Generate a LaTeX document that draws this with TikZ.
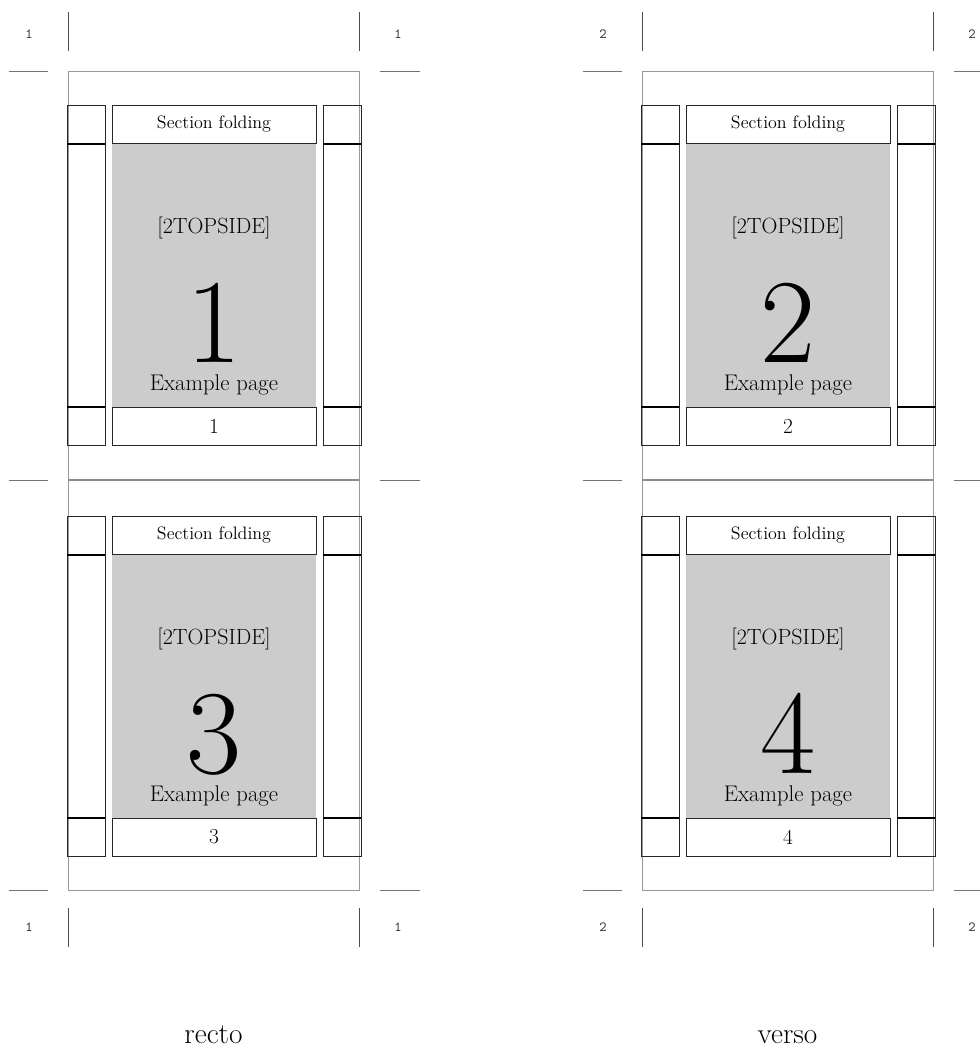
\documentclass[tikz,border=0pt]{standalone}
\usepackage{fontspec}
\usepackage{tikz}
\usetikzlibrary{positioning}

\tikzset{
  sheet/.style={draw=black!40, line width=0.6pt},
  fold/.style={draw=black!45, line width=1pt},
  crop/.style={draw=black!55, line width=0.7pt},
  cutmark/.style={draw=black!70, line width=0.6pt},
  pagebox/.style={draw=black!85, line width=0.6pt},
  rulebar/.style={draw=black, line width=1.3pt},
  textarea/.style={fill=black!20},
  hfbox/.style={pagebox, minimum width=153pt, minimum height=28.5pt, inner sep=0pt},
  corner/.style={font=\ttfamily\fontsize{10.5}{12}\selectfont, text=black!80},
  bodytext/.style={font=\fontsize{16.5}{20}\selectfont},
  bignum/.style={font=\fontsize{90}{90}\selectfont, inner sep=0pt},
  sidelabel/.style={font=\fontsize{22}{26}\selectfont, inner sep=0pt}
}

\begin{document}
\begin{tikzpicture}[x=0.75pt, y=-0.75pt]
    \useasboundingbox (0,0) rectangle (980,1061);

    % Sheets
    \foreach \dx/\n/\side in {0/1/recto, 574/2/verso} {
        \draw[sheet] (68+\dx,71) rectangle (359+\dx,890);
        \draw[fold] (68+\dx,480) -- (359+\dx,480);
        % crop marks
        \foreach \y in {71,480,890} {
            \draw[crop] (9+\dx,\y) -- (48+\dx,\y);
            \draw[crop] (380+\dx,\y) -- (420+\dx,\y);
        }
        \draw[cutmark] (68+\dx,12) -- (68+\dx,51);
        \draw[cutmark] (359+\dx,12) -- (359+\dx,51);
        \draw[cutmark] (68+\dx,908) -- (68+\dx,947);
        \draw[cutmark] (359+\dx,908) -- (359+\dx,947);
        \node[corner] (tl\n) at (29+\dx,34) {\n};
        \node[corner] (tr\n) at (398+\dx,34) {\n};
        \node[corner] (bl\n) at (29+\dx,927) {\n};
        \node[corner] (br\n) at (398+\dx,927) {\n};
        \node[sidelabel, anchor=base] (side\n) at (213.5+\dx,1043) {\side};
    }

    % Pages
    \foreach \dx/\dy/\p in {0/0/1, 0/411/3, 574/0/2, 574/411/4} {
        % margin columns
        \foreach \cx in {67,323} {
            \draw[pagebox] (\cx+\dx,105+\dy) rectangle (\cx+38+\dx,445+\dy);
            \draw[rulebar] (\cx+\dx,144+\dy) -- (\cx+38+\dx,144+\dy);
            \draw[rulebar] (\cx+\dx,407+\dy) -- (\cx+38+\dx,407+\dy);
        }
        % text block
        \fill[textarea] (112+\dx,143+\dy) rectangle (316+\dx,407+\dy);
        \node[hfbox, font=\fontsize{13.5}{16}\selectfont] (head\p) at (214+\dx,124+\dy) {Section folding};
        \node[hfbox, font=\fontsize{16}{18}\selectfont] (foot\p) at (214+\dx,426+\dy) {\p};
        \node[bodytext] (mode\p) at (214+\dx,228+\dy) {[2TOPSIDE]};
        \node[bignum, anchor=base] (num\p) at (214+\dx,362+\dy) {\p};
        \node[bodytext, font=\fontsize{17}{20}\selectfont, inner sep=0pt, anchor=base] (ex\p) at (214+\dx,390+\dy) {Example page};
    }
\end{tikzpicture}
\end{document}
